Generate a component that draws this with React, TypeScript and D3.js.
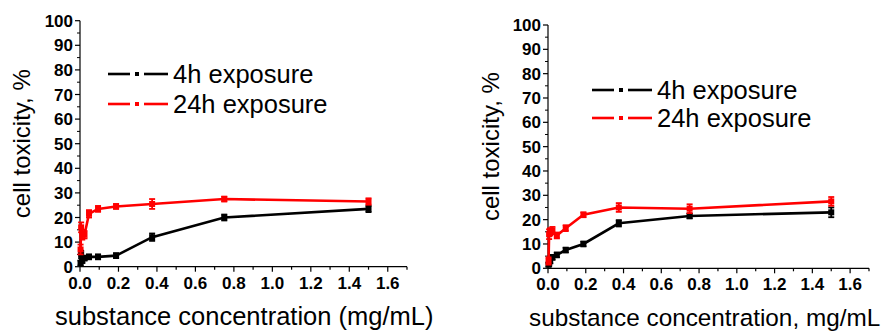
import React from "react";
import { scaleLinear, line, range } from "d3";

// concentrations in mg/mL (two-fold dilution series)
const conc = [0.0029, 0.0059, 0.0117, 0.0234, 0.0469, 0.0938, 0.1875, 0.375, 0.75, 1.5];

// left panel
const leftH4 = [1.5, 5, 2.5, 3.5, 4, 4, 4.5, 12, 20, 23.5];
const leftH4Err = [1, 1.5, 1, 1, 1, 1, 1, 1.5, 1.2, 1.3];
const leftH24 = [7, 16, 13, 13, 21.5, 23.5, 24.5, 25.5, 27.5, 26.5];
const leftH24Err = [2, 2, 2, 1.5, 1.5, 1.2, 1, 2, 1, 1.3];

// right panel
const rightH4 = [1.5, 2, 3, 4.5, 5.5, 7.5, 10, 18.5, 21.5, 23];
const rightH4Err = [0.8, 1, 1, 1, 1, 1, 1, 1.3, 1, 2];
const rightH24 = [3, 14, 15, 15.5, 13.5, 16.5, 22, 25, 24.5, 27.5];
const rightH24Err = [1.5, 2, 1.5, 1.5, 1.2, 1.2, 1, 1.8, 1.8, 1.8];

const yTicks = range(0, 101, 10);
const xTicks = [0, 0.2, 0.4, 0.6, 0.8, 1.0, 1.2, 1.4, 1.6];
const seriesNames = ["4h exposure", "24h exposure"];
const seriesColors = ["#000000", "#ff0000"];

const FONT = "'Liberation Sans', Arial, sans-serif";

type PanelProps = {
  x0: number; x1: number; yTop: number; yBottom: number;
  h4: number[]; h4Err: number[]; h24: number[]; h24Err: number[];
  xTitle: string; xTitleX: number; xTitleSize: number; yTitleX: number;
  legX: number; legY: number; legGap: number;
};

function Panel(p: PanelProps) {
  const xs = scaleLinear().domain([0, 1.7]).range([p.x0, p.x1]);
  const ys = scaleLinear().domain([0, 100]).range([p.yBottom, p.yTop]);
  const mk = line<number>().x((_, i) => xs(conc[i])).y((d) => ys(d));
  const series = [
    { v: p.h4, e: p.h4Err, c: seriesColors[0] },
    { v: p.h24, e: p.h24Err, c: seriesColors[1] },
  ];
  const xMinor = range(0, 1.71, 0.1);
  const yMinor = range(5, 100, 10);
  return (
    <g fontFamily={FONT}>
      {/* axes */}
      <line x1={p.x0} x2={p.x0} y1={p.yTop} y2={p.yBottom} stroke="#000" strokeWidth={1.2} />
      <line x1={p.x0} x2={p.x1} y1={p.yBottom} y2={p.yBottom} stroke="#000" strokeWidth={1.2} />
      {yTicks.map((t) => (
        <g key={"y" + t}>
          <line x1={p.x0 - 5} x2={p.x0} y1={ys(t)} y2={ys(t)} stroke="#000" strokeWidth={1.2} />
          <text x={p.x0 - 7} y={ys(t)} dy="0.36em" textAnchor="end" fontSize={17} fontWeight="bold">{t}</text>
        </g>
      ))}
      {yMinor.map((t) => (
        <line key={"ym" + t} x1={p.x0 - 3} x2={p.x0} y1={ys(t)} y2={ys(t)} stroke="#000" strokeWidth={1} />
      ))}
      {xMinor.map((t, i) => (
        <line key={"xm" + i} x1={xs(t)} x2={xs(t)} y1={p.yBottom} y2={p.yBottom + (i % 2 === 0 ? 5 : 3)} stroke="#000" strokeWidth={1.2} />
      ))}
      {xTicks.map((t) => (
        <text key={"x" + t} x={xs(t)} y={p.yBottom + 22} textAnchor="middle" fontSize={17} fontWeight="bold">{t.toFixed(1)}</text>
      ))}
      {/* titles */}
      <text transform={`translate(${p.yTitleX},${(p.yTop + p.yBottom) / 2}) rotate(-90)`} textAnchor="middle" fontSize={24}>cell toxicity, %</text>
      <text x={p.xTitleX} y={p.yBottom + 58} fontSize={p.xTitleSize}>{p.xTitle}</text>
      {/* data */}
      {series.map((s, k) => (
        <g key={"s" + k}>
          <path d={mk(s.v) || ""} fill="none" stroke={s.c} strokeWidth={2.6} />
          {s.v.map((v, i) => (
            <g key={i} stroke={s.c} strokeWidth={1.8}>
              <line x1={xs(conc[i])} x2={xs(conc[i])} y1={ys(v - s.e[i])} y2={ys(v + s.e[i])} />
              <line x1={xs(conc[i]) - 3} x2={xs(conc[i]) + 3} y1={ys(v - s.e[i])} y2={ys(v - s.e[i])} />
              <line x1={xs(conc[i]) - 3} x2={xs(conc[i]) + 3} y1={ys(v + s.e[i])} y2={ys(v + s.e[i])} />
              <rect x={xs(conc[i]) - 3} y={ys(v) - 3} width={6} height={6} fill={s.c} stroke="none" />
            </g>
          ))}
        </g>
      ))}
      {/* legend */}
      {seriesNames.map((n, k) => {
        const y = p.legY + k * p.legGap;
        return (
          <g key={n}>
            <line x1={p.legX} x2={p.legX + 22} y1={y} y2={y} stroke={seriesColors[k]} strokeWidth={2.6} />
            <rect x={p.legX + 27} y={y - 2} width={4} height={4} fill={seriesColors[k]} />
            <line x1={p.legX + 36} x2={p.legX + 60} y1={y} y2={y} stroke={seriesColors[k]} strokeWidth={2.6} />
            <text x={p.legX + 65} y={y} dy="0.36em" fontSize={25.5}>{n}</text>
          </g>
        );
      })}
    </g>
  );
}

export default function App() {
  return (
    <svg width={889} height={331} style={{ position: "absolute", left: 0, top: 0, background: "#fff" }}>
      <Panel x0={80} x1={407} yTop={20.7} yBottom={266.7}
        h4={leftH4} h4Err={leftH4Err} h24={leftH24} h24Err={leftH24Err}
        xTitle="substance concentration (mg/mL)" xTitleX={55} xTitleSize={25.5} yTitleX={30}
        legX={108} legY={74} legGap={30} />
      <Panel x0={548} x1={869} yTop={25} yBottom={268.3}
        h4={rightH4} h4Err={rightH4Err} h24={rightH24} h24Err={rightH24Err}
        xTitle="substance concentration, mg/mL" xTitleX={529} xTitleSize={24.3} yTitleX={499}
        legX={592} legY={90} legGap={28} />
    </svg>
  );
}
